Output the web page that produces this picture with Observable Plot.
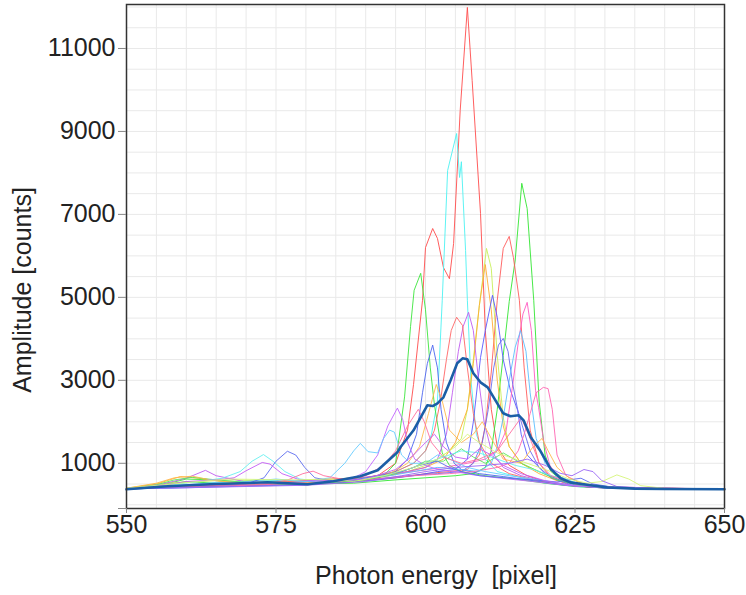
<!DOCTYPE html>
<html><head><meta charset="utf-8">
<script src="https://cdn.jsdelivr.net/npm/d3@7"></script>
<script src="https://cdn.jsdelivr.net/npm/@observablehq/plot@0.6"></script>
<style>body{margin:0;background:#fff}</style>
</head><body><div id="chart"></div>
<script>
// Spectra: [photon energy (pixel), amplitude (counts)] vertices
const s01 = [[550,380],[556,420],[562,480],[568,470],[575,500],[582,540],[588,560],[592,700],[595,1000],[597,1800],[598,2900],[599.5,4930],[600,6200],[601.2,6660],[602,6420],[603,5720],[604,5450],[604.7,6300],[605.8,9500],[607,11990],[607.8,10230],[609.2,7020],[610,4200],[611,2300],[612,1400],[614,950],[617,700],[620,560],[625,450],[632,400],[650,378]];
const s02 = [[550,390],[558,430],[565,520],[572,600],[578,560],[585,600],[590,650],[595,800],[598,1000],[600,1300],[601,1700],[602,2500],[602.8,4930],[603.7,8060],[605.2,8950],[605.7,7890],[606,8270],[606.7,6130],[607,4930],[607.6,3000],[608.5,1700],[610,1100],[612,800],[616,650],[620,520],[626,430],[635,390],[650,378]];
const s03 = [[550,380],[555,450],[560,560],[565,520],[572,480],[580,500],[588,520],[595,600],[600,650],[605,700],[608,750],[610,900],[611,1300],[612,2300],[613,3600],[614,4900],[615,5900],[616.1,7750],[617,7140],[618.1,4930],[619,2500],[620,1200],[621,800],[623,560],[627,430],[635,390],[650,378]];
const s04 = [[550,390],[558,470],[565,440],[572,500],[580,520],[588,560],[595,650],[600,750],[604,800],[607,850],[609,1200],[610,1900],[611,3200],[612,4930],[613,6180],[614,6470],[614.7,5960],[615.7,4930],[616.5,3300],[617.5,1800],[619,1000],[621,650],[624,480],[630,400],[650,378]];
const s05 = [[550,385],[556,480],[560,620],[564,600],[570,520],[578,500],[585,540],[590,600],[593,700],[595,1000],[596.5,2600],[597.5,4300],[598.1,5170],[599.2,5580],[600,4700],[600.8,3300],[601.5,2400],[602.8,1250],[604,950],[606,800],[610,700],[615,620],[620,520],[625,440],[632,395],[650,378]];
const s06 = [[550,400],[556,520],[562,560],[568,600],[575,560],[582,600],[587,640],[592,650],[597,800],[601,1000],[604,1300],[606,1600],[607,2300],[608,3500],[609,4800],[610.2,6180],[611,5700],[612,3600],[613,2100],[614,1400],[616,1000],[619,800],[622,620],[626,480],[630,420],[650,378]];
const s07 = [[550,390],[555,500],[559,680],[562,640],[566,560],[572,520],[580,480],[588,560],[594,700],[600,900],[603,1100],[605,1500],[607,2300],[608,3400],[609,4800],[610,5790],[611,4700],[612,3000],[613,1900],[614,1400],[616,1000],[619,750],[622,580],[626,470],[632,400],[650,378]];
const s08 = [[550,380],[560,420],[570,470],[578,500],[586,540],[592,600],[598,700],[602,800],[605,850],[607,1100],[608,2000],[609.2,3550],[610,4200],[611.2,5050],[612,4520],[613,3500],[614.2,2760],[615.4,2280],[616,1700],[617,1200],[620,750],[623,560],[626,460],[632,400],[650,378]];
const s09 = [[550,390],[558,450],[565,480],[572,520],[580,560],[586,600],[592,700],[598,800],[603,900],[607,1000],[610,1100],[612,1300],[613.5,1800],[614.5,2800],[615.5,3900],[616.3,4600],[617,4880],[617.7,4200],[618.4,2760],[618.9,2350],[619.8,1500],[620.8,950],[622,700],[625,520],[630,420],[650,378]];
const s10 = [[550,380],[556,500],[560,640],[563.2,830],[565,700],[570,550],[578,520],[585,560],[592,700],[597,800],[600,900],[602,1100],[603.5,1700],[604.5,2700],[605.5,3700],[606.3,4300],[607.2,4640],[608,4200],[608.8,3100],[609.8,2000],[611,1300],[613,900],[616,700],[620,560],[625,450],[632,400],[650,378]];
const s11 = [[550,395],[556,440],[562,470],[570,500],[577,560],[584,620],[590,650],[595,800],[598,1000],[600,1300],[601.5,1800],[602.5,2500],[603.5,3500],[604.3,4200],[605.2,4520],[606.2,4320],[607,3300],[608,2200],[609,1500],[611,1000],[614,750],[618,600],[622,500],[628,420],[650,378]];
const s12 = [[550,380],[558,430],[566,460],[574,480],[582,520],[588,560],[592,650],[595,800],[597,1100],[598.5,1700],[599.5,2700],[600.3,3400],[601.2,3850],[602,3300],[602.6,2300],[603.5,1500],[604.8,1000],[606,850],[609,750],[613,680],[618,580],[623,480],[630,400],[650,378]];
const s13 = [[550,385],[560,410],[570,450],[580,480],[590,600],[597,700],[602,750],[606,800],[608,1000],[609.5,1500],[610.5,2300],[611.4,3300],[612.2,3850],[613,4010],[613.8,3700],[614.6,2900],[615.4,2300],[616.2,1900],[617.5,1300],[619,900],[621,650],[624,500],[630,410],[650,378]];
const s14 = [[550,380],[560,420],[570,480],[576,600],[580,560],[586,560],[590,650],[594,700],[598,800],[602,900],[606,850],[609,800],[611,1000],[612,1400],[613,2100],[614,3000],[615,3800],[615.9,4200],[616.8,3700],[617.5,2700],[618.5,1600],[620,1000],[622,700],[625,520],[630,420],[650,378]];
const s15 = [[550,390],[560,430],[570,470],[580,520],[590,600],[598,700],[604,750],[608,800],[612,900],[614,1000],[615.5,1300],[616.5,1700],[617.5,2200],[618.5,2700],[619.7,2830],[620.5,2800],[621.2,2300],[622,1200],[622.6,1000],[623.5,700],[626,520],[630,430],[650,378]];
const s16 = [[550,390],[558,440],[566,500],[574,520],[580,540],[585,560],[588,650],[590,800],[592,1200],[593.7,1900],[595.3,2330],[596.2,2050],[597,1500],[598.2,1100],[600,950],[602,850],[605,800],[608,720],[612,650],[618,560],[624,460],[632,400],[650,378]];
const s17 = [[550,395],[558,460],[565,540],[570,560],[575,620],[580,560],[584,650],[586.5,1000],[588,1300],[589.1,1480],[590.4,1280],[592,1250],[593,1600],[594,1800],[594.8,1750],[596,1200],[597.5,1000],[600,1000],[602,1200],[604,1100],[607,900],[610,800],[614,700],[618,620],[624,480],[630,410],[650,378]];
const s18 = [[550,390],[555,480],[558,600],[561,660],[565,600],[570,540],[576,500],[583,520],[590,600],[595,750],[598,900],[600,1050],[603,1050],[606,1350],[608,1150],[610,1000],[613,1250],[616,1000],[619,800],[622,600],[626,460],[632,400],[650,378]];
const s19 = [[550,400],[555,520],[558,650],[561,690],[564,600],[570,500],[578,520],[585,560],[590,640],[594,750],[597,1000],[599,1400],[600.5,2200],[601.8,2900],[602.8,2500],[604,1800],[606,1500],[608,1700],[609.5,2000],[611,1600],[613,1100],[616,1000],[618,1400],[619.5,1600],[620.5,1300],[622,900],[624,650],[627,470],[632,400],[650,378]];
const s20 = [[550,395],[556,450],[562,560],[566,640],[569,800],[571,1050],[572.9,1210],[574.5,1050],[576.5,800],[579,620],[583,560],[588,600],[593,700],[597,850],[600,1000],[603,1150],[606,1300],[609,1250],[612,1100],[615,950],[618,850],[621,700],[623,650],[626,480],[632,400],[650,378]];
const s21 = [[550,385],[558,420],[565,450],[570,500],[573,650],[575,1050],[576.9,1290],[578.3,1200],[579.8,900],[581.5,650],[584,580],[588,600],[592,700],[596,800],[599,950],[602,1050],[604,900],[606,800],[609,700],[613,650],[618,600],[622,550],[624,600],[626,640],[628,500],[632,410],[650,378]];
const s22 = [[550,390],[556,470],[560,560],[565,600],[568,650],[570,820],[572.7,1020],[574,980],[576,750],[579,600],[584,560],[590,620],[595,850],[598,1200],[600,1500],[601.5,1700],[603,1400],[605,1150],[607,1100],[609,1350],[611,1200],[613,950],[616,750],[620,580],[625,460],[632,400],[650,378]];
const s23 = [[550,395],[560,440],[568,480],[574,520],[577,600],[579.5,750],[581.2,810],[583,700],[586,620],[590,700],[593,950],[595,1300],[597,1900],[598.8,2300],[599.8,2000],[601,1500],[603,1150],[606,1000],[609,1100],[612,1300],[614,1700],[616,2100],[617.5,1600],[619,1000],[621,700],[625,500],[632,410],[650,378]];
const s24 = [[550,400],[556,480],[562,560],[567,620],[572,610],[578,600],[584,620],[588,560],[593,700],[598,900],[602,1100],[605,1400],[607,1700],[609,1500],[612,1250],[615,1100],[618,950],[621,800],[624,620],[627,520],[629.5,560],[632,720],[634,620],[636,460],[640,395],[650,378]];
const s25 = [[550,385],[560,410],[570,440],[580,470],[590,560],[596,700],[600,800],[605,900],[610,950],[614,1000],[617,1100],[620,950],[622.5,760],[624.5,700],[626.5,850],[628,800],[629.5,580],[632,440],[638,395],[650,378]];

const lineColors = ["#ff4d4d","#4df2f2","#33e633","#ff5c5c","#3de63d","#c9f05a","#ffad33","#5a5aff","#ff5cc2","#c05cf0","#ff6666","#4d66f0","#6b6bf0","#5cbfff","#ff66b3","#c266ff","#66ccff","#5ce65c","#ffb84d","#66f0f0","#5c6cf0","#c45cf5","#ff6fa0","#d6f57a","#9966f5"];

// Mean spectrum (thick line)
const meanSpectrum = [[550,373],[556.9,445],[564,494],[573.6,542],[580.3,494],[584.6,566],[589.1,687],[592,831],[595.3,1265],[595.8,1386],[598,1795],[600.3,2398],[601.2,2380],[602,2446],[603,2590],[604.2,3000],[605.3,3410],[606.2,3530],[607,3506],[608,3169],[609.2,2952],[610.4,2831],[611.7,2518],[613,2205],[614.2,2133],[615.6,2157],[616.4,2036],[617.6,1627],[619.2,1300],[620.9,870],[622.6,640],[624.2,540],[627.6,470],[630.4,420],[635,390],[640,380],[650,375]];

const xTicks = [550,575,600,625,650];
const yTicks = [-90,1000,3000,5000,7000,9000,11000];
const xGrid = d3.range(550,651,5);
const yGrid = d3.range(0,12001,500);

const series = [s01,s02,s03,s04,s05,s06,s07,s08,s09,s10,s11,s12,s13,s14,s15,s16,s17,s18,s19,s20,s21,s22,s23,s24,s25];

const chart = Plot.plot({
  width: 746, height: 595,
  marginLeft: 126, marginRight: 22, marginTop: 4, marginBottom: 87,
  style: {fontFamily: "'Liberation Sans', Arial, sans-serif", fontSize: "25px", color: "#222", background: "#fff"},
  x: {domain: [550, 650]},
  y: {domain: [-90, 12060]},
  marks: [
    Plot.gridX(xGrid, {stroke: "#e9e9e9", strokeOpacity: 1}),
    Plot.gridY(yGrid, {stroke: "#e9e9e9", strokeOpacity: 1}),
    ...series.map((s, i) => Plot.line(s, {x: d => d[0], y: d => d[1], stroke: lineColors[i], strokeWidth: 1, strokeOpacity: 0.9})),
    Plot.line(meanSpectrum, {x: d => d[0], y: d => d[1], stroke: "#1b5ea6", strokeWidth: 2.6}),
    Plot.frame({stroke: "#333", strokeWidth: 1.5}),
    Plot.axisX(xTicks, {tickSize: 5, tickPadding: 2, stroke: "#888", label: null, fontSize: 25}),
    Plot.axisY(yTicks, {tickSize: 8, tickPadding: 3, stroke: "#888", label: null, fontSize: 25, tickFormat: d => d < 0 ? "" : String(d)})
  ]
});

const svg = d3.select(chart);
svg.append("text")
  .attr("x", 436).attr("y", 584)
  .attr("text-anchor", "middle")
  .attr("fill", "#222")
  .attr("font-size", 25)
  .style("white-space", "pre")
  .text("Photon energy  [pixel]");
svg.append("text")
  .attr("transform", "translate(31,290) rotate(-90)")
  .attr("text-anchor", "middle")
  .attr("fill", "#222")
  .attr("font-size", 25)
  .text("Amplitude [counts]");

document.getElementById("chart").appendChild(chart);
</script>
</body></html>
